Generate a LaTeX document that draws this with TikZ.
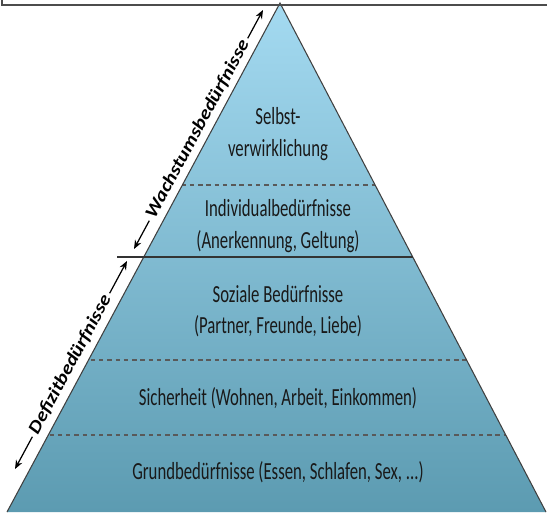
\documentclass[tikz,border=0pt]{standalone}
\usepackage{fontspec}
\setmainfont{Carlito}[FakeStretch=0.68]
\newfontfamily\sidefont{Carlito}[FakeStretch=1.15]
\usetikzlibrary{arrows.meta}
\definecolor{pyramidtop}{RGB}{164,218,241}
\definecolor{pyramidbottom}{RGB}{92,155,177}

\begin{document}
\begin{tikzpicture}[x=0.02cm,y=0.02cm,font=\fontsize{14}{18}\selectfont,
  level-text/.style={align=center,text=black!90,inner sep=0pt},
  level-line/.style={draw=black!65,line width=0.8pt,dash pattern=on 2.5pt off 2.2pt},
  side-text/.style={font=\sidefont\fontsize{10.3}{12}\selectfont\bfseries\itshape,inner sep=2pt,sloped,anchor=mid},
  side-arrow/.style={-{Stealth[length=5pt,width=4pt]},line width=0.7pt}]
\useasboundingbox (0,0) rectangle (547,512);
\coordinate (apex) at (280,509);
\coordinate (base-west) at (7,0);
\coordinate (base-east) at (546,0);
\path[top color=pyramidtop,bottom color=pyramidbottom] (base-west) -- (apex) -- (base-east) -- cycle;
\begin{scope}
\clip (base-west) -- (apex) -- (base-east) -- cycle;
\draw[level-line] (0,327) -- (547,327);
\draw[level-line] (0,152) -- (547,152);
\draw[level-line] (0,77) -- (547,77);
\end{scope}
\draw[black!75,line width=0.6pt] (base-west) -- (apex) -- (base-east);
\draw[black!80,line width=0.8pt] (117,255) -- (413,255);
\draw[black!70,line width=1.2pt] (2,514) |- (549,507);
\node[level-text] (level-5) at (278,378) {Selbst-\\verwirklichung};
\node[level-text] (level-4) at (278,286) {Individualbedürfnisse\\(Anerkennung, Geltung)};
\node[level-text] (level-3) at (278,201) {Soziale Bedürfnisse\\(Partner, Freunde, Liebe)};
\node[level-text] (level-2) at (278,114) {Sicherheit (Wohnen, Arbeit, Einkommen)};
\node[level-text] (level-1) at (278,40) {Grundbedürfnisse (Essen, Schlafen, Sex, ...)};
\coordinate (growth-low) at (134,263);
\coordinate (growth-high) at (263,502);
\path (growth-low) -- (growth-high) node[midway,side-text] (growth-label) {Wachstumsbedürfnisse};
\draw[side-arrow] (growth-label.mid east) -- (growth-high);
\draw[side-arrow] (growth-label.mid west) -- (growth-low);
\coordinate (deficit-low) at (15,43);
\coordinate (deficit-high) at (127,251);
\path (deficit-low) -- (deficit-high) node[midway,side-text] (deficit-label) {Defizitbedürfnisse};
\draw[side-arrow] (deficit-label.mid east) -- (deficit-high);
\draw[side-arrow] (deficit-label.mid west) -- (deficit-low);
\end{tikzpicture}
\end{document}
